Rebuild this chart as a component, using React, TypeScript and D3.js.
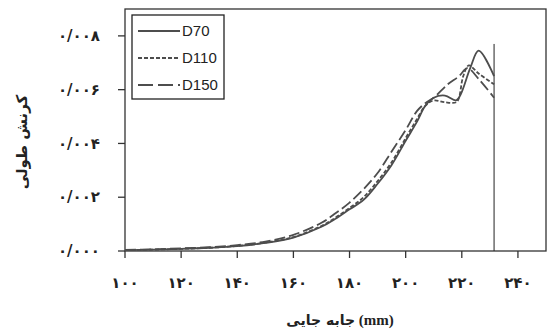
import React from "react";
import * as d3 from "d3";

// Displacement (mm) sample positions and longitudinal strain for each specimen
const xD70 = [100, 110, 120, 130, 140, 150, 160, 170, 175, 180, 185, 190, 195, 200, 204, 207, 210, 214, 218, 219.5, 223, 226, 231.5];
const yD70 = [0.00003, 0.00005, 0.00008, 0.00012, 0.00018, 0.0003, 0.0005, 0.0009, 0.0012, 0.00155, 0.0019, 0.0025, 0.0032, 0.0041, 0.0048, 0.0054, 0.0057, 0.00578, 0.0056, 0.0058, 0.0068, 0.00745, 0.0065];

const xD110 = [100, 110, 120, 130, 140, 150, 160, 170, 175, 180, 185, 190, 195, 200, 204, 207, 210, 214, 218, 219, 220.5, 222.5, 226, 231.5];
const yD110 = [0.00003, 0.00005, 0.00008, 0.00012, 0.00019, 0.00031, 0.00052, 0.00093, 0.00124, 0.0016, 0.002, 0.0026, 0.0033, 0.0042, 0.0049, 0.0054, 0.0056, 0.00553, 0.00553, 0.0057, 0.0065, 0.0069, 0.0066, 0.0062];

const xD150 = [100, 110, 120, 130, 140, 150, 160, 170, 175, 180, 185, 190, 195, 200, 204, 207, 210, 215, 219, 222, 226, 231.5];
const yD150 = [0.00004, 0.00006, 0.0001, 0.00014, 0.00022, 0.00035, 0.0006, 0.00105, 0.0014, 0.0018, 0.0023, 0.0029, 0.0037, 0.0045, 0.0052, 0.0055, 0.0057, 0.0062, 0.0065, 0.0068, 0.0064, 0.0057];

const seriesNames = ["D70", "D110", "D150"];
const dashPatterns = ["none", "4,2", "11,4"];

const xTicks = [100, 120, 140, 160, 180, 200, 220, 240];
const yTicks = [0, 0.002, 0.004, 0.006, 0.008];
const xTickLabels = ["۱۰۰", "۱۲۰", "۱۴۰", "۱۶۰", "۱۸۰", "۲۰۰", "۲۲۰", "۲۴۰"];
const yTickLabels = ["۰/۰۰۰", "۰/۰۰۲", "۰/۰۰۴", "۰/۰۰۶", "۰/۰۰۸"];

const markerX = 231.5;
const markerTop = 0.0077;

const xTitleWords = "جابه جایی";
const xTitleUnit = "(mm)";
const yTitle = "کرنش طولی";

const W = 548;
const H = 333;
const plot = { left: 125, right: 546, top: 9, bottom: 251 };

export default function App() {
  const x = d3.scaleLinear().domain([100, 250]).range([plot.left, plot.right]);
  const y = d3.scaleLinear().domain([0, 0.009]).range([plot.bottom, plot.top]);

  const line = d3
    .line<[number, number]>()
    .x((d) => x(d[0]))
    .y((d) => y(d[1]))
    .curve(d3.curveCatmullRom.alpha(0.5));

  const series = [
    d3.zip(xD70, yD70) as [number, number][],
    d3.zip(xD110, yD110) as [number, number][],
    d3.zip(xD150, yD150) as [number, number][],
  ];

  const lineColor = "#4d4d4d";
  const persianFont = "'DejaVu Sans', sans-serif";

  return (
    <svg
      width={W}
      height={H}
      style={{ position: "absolute", left: 0, top: 0, background: "#fff" }}
    >
      <rect x={0} y={0} width={W} height={H} fill="#fff" />

      {/* frame */}
      <rect
        x={plot.left}
        y={plot.top}
        width={plot.right - plot.left}
        height={plot.bottom - plot.top}
        fill="none"
        stroke="#333"
        strokeWidth={1.3}
      />

      {/* y ticks */}
      {yTicks.map((t, i) => (
        <g key={"y" + i}>
          <line x1={plot.left - 7} x2={plot.left} y1={y(t)} y2={y(t)} stroke="#333" strokeWidth={1.3} />
          <text
            x={100}
            y={y(t)}
            dy="0.35em"
            textAnchor="end"
            fontFamily={persianFont}
            fontWeight="bold"
            fontSize={15}
            letterSpacing={1.5}
            fill="#222"
          >
            {yTickLabels[i]}
          </text>
        </g>
      ))}

      {/* x ticks */}
      {xTicks.map((t, i) => (
        <g key={"x" + i}>
          <line x1={x(t)} x2={x(t)} y1={plot.bottom} y2={plot.bottom + 7} stroke="#333" strokeWidth={1.3} />
          <text
            x={x(t)}
            y={283}
            dy="0.35em"
            textAnchor="middle"
            fontFamily={persianFont}
            fontWeight="bold"
            fontSize={15}
            letterSpacing={2}
            fill="#222"
          >
            {xTickLabels[i]}
          </text>
        </g>
      ))}

      {/* reference line at failure displacement */}
      <line
        x1={x(markerX)}
        x2={x(markerX)}
        y1={y(markerTop)}
        y2={plot.bottom}
        stroke="#222"
        strokeWidth={1}
      />

      {/* strain curves */}
      {series.map((s, i) => (
        <path
          key={"s" + i}
          d={line(s) || ""}
          fill="none"
          stroke={lineColor}
          strokeWidth={1.8}
          strokeDasharray={dashPatterns[i]}
          strokeLinejoin="miter"
        />
      ))}

      {/* legend */}
      <rect x={132} y={15} width={92} height={84} fill="#fff" stroke="#222" strokeWidth={1.3} />
      {seriesNames.map((n, i) => {
        const ly = 31 + i * 27;
        return (
          <g key={"l" + i}>
            <line
              x1={138}
              x2={180}
              y1={ly}
              y2={ly}
              stroke={lineColor}
              strokeWidth={1.8}
              strokeDasharray={i === 2 ? "15,5" : dashPatterns[i]}
            />
            <text
              x={182}
              y={ly}
              dy="0.35em"
              fontFamily="'Liberation Sans', Arial, sans-serif"
              fontSize={15}
              fill="#222"
            >
              {n}
            </text>
          </g>
        );
      })}

      {/* axis titles */}
      <text
        x={340}
        y={320}
        dy="0.35em"
        textAnchor="middle"
        fontWeight="bold"
        fontSize={14}
        fill="#222"
      >
        <tspan fontFamily={persianFont}>{xTitleWords}</tspan>
        <tspan fontFamily="'Liberation Serif', serif" fontSize={15}>{" " + xTitleUnit}</tspan>
      </text>
      <text
        transform={`translate(22,142) rotate(-90)`}
        dy="0.35em"
        textAnchor="middle"
        fontFamily={persianFont}
        fontWeight="bold"
        fontSize={15}
        fill="#222"
      >
        {yTitle}
      </text>
    </svg>
  );
}
